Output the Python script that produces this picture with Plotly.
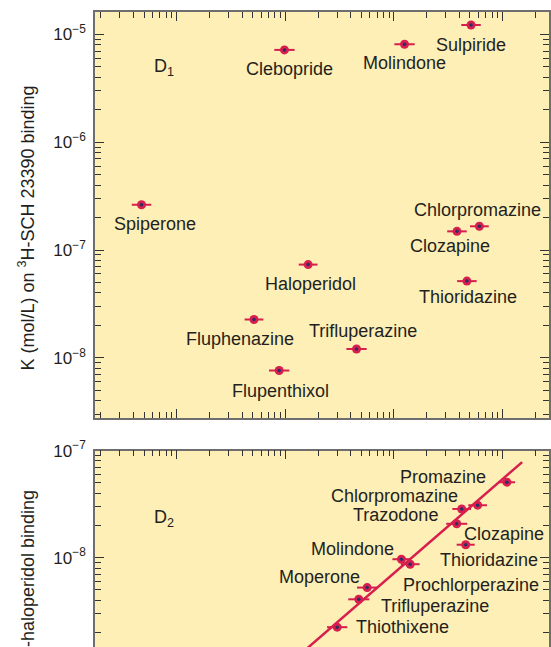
import numpy as np
import plotly.graph_objects as go

# ---------------- data ----------------
# D1 panel: clinical dose (mg/day) vs K (mol/L) on 3H-SCH 23390 binding
d1_drugs = ["Spiperone", "Clebopride", "Molindone", "Sulpiride", "Chlorpromazine",
            "Clozapine", "Haloperidol", "Thioridazine", "Fluphenazine",
            "Trifluperazine", "Flupenthixol"]
d1_dose = [0.474, 9.81, 125, 512, 611, 380, 16.2, 469, 5.14, 45.2, 8.77]
d1_k = [2.63e-7, 7.17e-6, 8.09e-6, 1.22e-5, 1.66e-7, 1.49e-7, 7.33e-8,
        5.15e-8, 2.27e-8, 1.21e-8, 7.64e-9]
d1_err = [1.23, 1.24, 1.24, 1.23, 1.22, 1.23, 1.22, 1.23, 1.22, 1.24, 1.24]

# D2 panel: clinical dose (mg/day) vs K (mol/L) on 3H-haloperidol binding
d2_drugs = ["Promazine", "Chlorpromazine", "Thioridazine", "Trazodone", "Clozapine",
            "Molindone", "Prochlorperazine", "Moperone", "Trifluperazine", "Thiothixene"]
d2_dose = [1095, 420, 589, 378, 457, 117, 141, 56.6, 47.4, 30.0]
d2_k = [5.07e-8, 2.85e-8, 3.09e-8, 2.07e-8, 1.32e-8, 9.66e-9, 8.68e-9,
        5.25e-9, 4.08e-9, 2.24e-9]
d2_err = [1.19, 1.22, 1.22, 1.25, 1.21, 1.21, 1.22, 1.24, 1.25, 1.24]

# regression line of the D2 panel (end points)
d2_line_dose = [12.6, 1513]
d2_line_k = [1.16e-9, 7.8e-8]

# axis ticks
x_major = [1, 10, 100, 1000]
x_minor = [m * 10.0 ** d for d in range(-1, 4) for m in range(2, 10)]
y1_major = [1e-8, 1e-7, 1e-6, 1e-5]
y1_text = ["10<sup>−8</sup>", "10<sup>−7</sup>", "10<sup>−6</sup>", "10<sup>−5</sup>"]
y2_major = [1e-9, 1e-8, 1e-7]
y2_text = ["10<sup>−9</sup>", "10<sup>−8</sup>", "10<sup>−7</sup>"]
y_minor = [m * 10.0 ** d for d in range(-10, -4) for m in range(2, 10)]

# ---------------- style ----------------
FONT = "Liberation Sans, Arial, Helvetica, sans-serif"
TXT = "#231f20"
RED = "#d81e4d"
NAVY = "#2c2f66"
BG = "#fdefb6"
LINEC = "#6e6e6e"
TICKC = "#333333"

# label offsets in pixels (xshift, yshift) relative to each point
d1_off = [(13, -19.7), (5.5, -19.5), (0, -19.2), (0, -19.7), (-1.5, 16.4),
          (-7, -14.3), (2, -19), (0.7, -16.2), (-14.2, -19.3), (6, 17.6), (1, -20)]
d2_off = [(-64.2, 5.1), (-67.5, 13.2), (11, -55), (-61.6, 9.3), (38.5, 11),
          (-48.5, 10.5), (61.1, -20.7), (-47.7, 11), (76.2, -6.7), (65.4, 0)]


def err_arrays(x, f):
    x = np.asarray(x, float)
    f = np.asarray(f, float)
    return x * (f - 1), x * (1 - 1 / f)


fig = go.Figure()

# D2 regression line
fig.add_trace(go.Scatter(x=d2_line_dose, y=d2_line_k, mode="lines",
                         line=dict(color=RED, width=2.5), xaxis="x2", yaxis="y2",
                         hoverinfo="skip", showlegend=False))

for xs, ys, ef, xa, ya in [(d1_dose, d1_k, d1_err, "x", "y"),
                           (d2_dose, d2_k, d2_err, "x2", "y2")]:
    plus, minus = err_arrays(xs, ef)
    fig.add_trace(go.Scatter(
        x=xs, y=ys, mode="markers", xaxis=xa, yaxis=ya, showlegend=False,
        marker=dict(color=RED, size=9, line=dict(width=0)),
        error_x=dict(type="data", symmetric=False, array=plus, arrayminus=minus,
                     color=RED, thickness=2, width=0)))
    fig.add_trace(go.Scatter(
        x=xs, y=ys, mode="markers", xaxis=xa, yaxis=ya, showlegend=False,
        marker=dict(color=NAVY, size=3.5, line=dict(width=0)), hoverinfo="skip"))

annotations = []
for names, xs, ys, offs, xr, yr in [(d1_drugs, d1_dose, d1_k, d1_off, "x", "y"),
                                     (d2_drugs, d2_dose, d2_k, d2_off, "x2", "y2")]:
    for n, xv, yv, (dx, dy) in zip(names, xs, ys, offs):
        annotations.append(dict(
            x=np.log10(xv), y=np.log10(yv), xref=xr, yref=yr, text=n,
            showarrow=False, xshift=dx, yshift=dy, xanchor="center", yanchor="middle",
            font=dict(family=FONT, size=18, color=TXT)))

# panel tags
annotations.append(dict(x=0.1265, y=0.912, xref="paper", yref="paper", text="D<sub>1</sub>",
                        showarrow=False, xanchor="left", yanchor="middle",
                        font=dict(family=FONT, size=18, color=TXT)))
annotations.append(dict(x=0.1265, y=0.2028, xref="paper", yref="paper", text="D<sub>2</sub>",
                        showarrow=False, xanchor="left", yanchor="middle",
                        font=dict(family=FONT, size=18, color=TXT)))
# y titles
annotations.append(dict(x=-0.150, y=0.6604, xref="paper", yref="paper",
                        text="K (mol/L) on <sup>3</sup>H-SCH 23390 binding", textangle=-90,
                        showarrow=False, xanchor="center", yanchor="middle",
                        font=dict(family=FONT, size=18, color=TXT)))
annotations.append(dict(x=-0.150, y=0.25, xref="paper", yref="paper",
                        text="K (mol/L) on <sup>3</sup>H-haloperidol binding", textangle=-90,
                        showarrow=False, xanchor="center", yanchor="top",
                        font=dict(family=FONT, size=18, color=TXT)))

common = dict(type="log", showline=True, linecolor=LINEC, linewidth=1.5,
              ticks="inside", ticklen=9, tickwidth=1.3, tickcolor=TICKC,
              showgrid=False, zeroline=False, tickmode="array")
minor_x = dict(tickmode="array", tickvals=x_minor, ticks="inside", ticklen=6,
               tickwidth=1.2, tickcolor=TICKC, showgrid=False)
minor_y = dict(tickmode="array", tickvals=y_minor, ticks="inside", ticklen=6,
               tickwidth=1.2, tickcolor=TICKC, showgrid=False)
xrange = [-0.7525, 3.427]

fig.update_layout(
    width=551, height=647,
    margin=dict(l=95, r=0, t=11, b=0),
    paper_bgcolor="white", plot_bgcolor=BG,
    showlegend=False,
    font=dict(family=FONT, color=TXT),
    xaxis=dict(**common, domain=[0, 1], anchor="y", range=xrange, mirror="ticks",
               tickvals=x_major, showticklabels=False, minor=minor_x),
    yaxis=dict(**common, domain=[0.3605, 1], anchor="x", range=[-8.558, -4.793],
               mirror="ticks", tickvals=y1_major, ticktext=y1_text,
               tickfont=dict(family=FONT, size=17, color=TXT), minor=minor_y,
               ticklabelstandoff=4),
    xaxis2=dict(**common, domain=[0, 1], anchor="y2", range=xrange, side="top",
                mirror=False, tickvals=x_major, showticklabels=False, minor=minor_x),
    yaxis2=dict(**common, domain=[0, 0.3093], anchor="x2", range=[-8.835, -7.0],
                mirror="ticks", tickvals=y2_major, ticktext=y2_text,
                tickfont=dict(family=FONT, size=17, color=TXT), minor=minor_y,
                ticklabelstandoff=4),
    annotations=annotations,
)

fig.write_html("out.html",
               config={"displayModeBar": False},
               post_script="document.body.style.margin='0';"
                           "document.body.style.overflow='hidden';")
